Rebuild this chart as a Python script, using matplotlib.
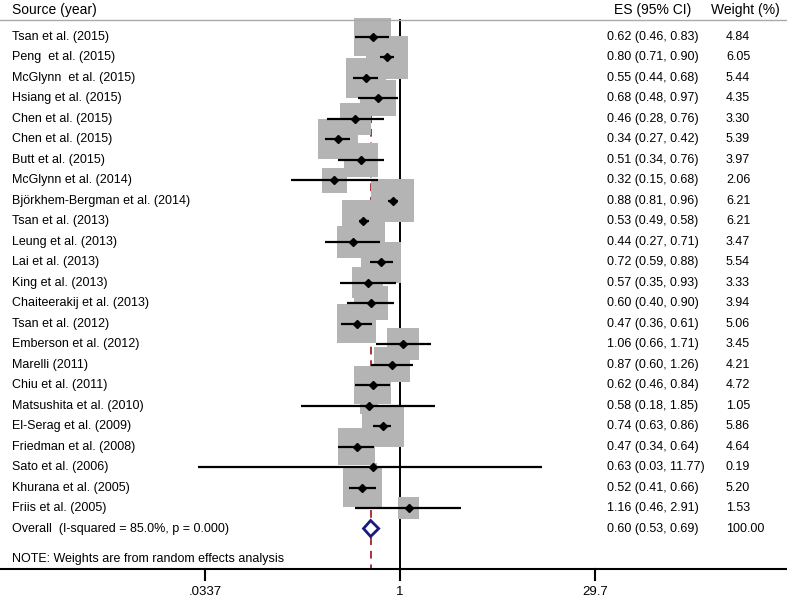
import numpy as np
import matplotlib
matplotlib.use("Agg")
import matplotlib.pyplot as plt
from matplotlib.patches import Rectangle, Polygon
import matplotlib.transforms as mtransforms

plt.rcParams['font.family'] = ['Liberation Sans', 'DejaVu Sans']

studies = ["Tsan et al. (2015)", "Peng  et al. (2015)", "McGlynn  et al. (2015)", "Hsiang et al. (2015)",
           "Chen et al. (2015)", "Chen et al. (2015)", "Butt et al. (2015)", "McGlynn et al. (2014)",
           "Björkhem-Bergman et al. (2014)", "Tsan et al. (2013)", "Leung et al. (2013)", "Lai et al. (2013)",
           "King et al. (2013)", "Chaiteerakij et al. (2013)", "Tsan et al. (2012)", "Emberson et al. (2012)",
           "Marelli (2011)", "Chiu et al. (2011)", "Matsushita et al. (2010)", "El-Serag et al. (2009)",
           "Friedman et al. (2008)", "Sato et al. (2006)", "Khurana et al. (2005)", "Friis et al. (2005)"]
es = [0.62, 0.80, 0.55, 0.68, 0.46, 0.34, 0.51, 0.32, 0.88, 0.53, 0.44, 0.72,
      0.57, 0.60, 0.47, 1.06, 0.87, 0.62, 0.58, 0.74, 0.47, 0.63, 0.52, 1.16]
lo = [0.46, 0.71, 0.44, 0.48, 0.28, 0.27, 0.34, 0.15, 0.81, 0.49, 0.27, 0.59,
      0.35, 0.40, 0.36, 0.66, 0.60, 0.46, 0.18, 0.63, 0.34, 0.03, 0.41, 0.46]
hi = [0.83, 0.90, 0.68, 0.97, 0.76, 0.42, 0.76, 0.68, 0.96, 0.58, 0.71, 0.88,
      0.93, 0.90, 0.61, 1.71, 1.26, 0.84, 1.85, 0.86, 0.64, 11.77, 0.66, 2.91]
weights = [4.84, 6.05, 5.44, 4.35, 3.30, 5.39, 3.97, 2.06, 6.21, 6.21, 3.47, 5.54,
           3.33, 3.94, 5.06, 3.45, 4.21, 4.72, 1.05, 5.86, 4.64, 0.19, 5.20, 1.53]
overall = (0.60, 0.53, 0.69)
overall_label = "Overall  (I-squared = 85.0%, p = 0.000)"
ticks = [0.0337, 1, 29.7]
tick_labels = [".0337", "1", "29.7"]

W, H = 787, 597
fig = plt.figure(figsize=(W / 100, H / 100), dpi=100)
ax = fig.add_axes([0, 0, 1, 1])
ax.set_axis_off()

# geometry in pixels -> data
px_per_ln = 57.5      # pixels per ln unit on the x axis
x_one = 400           # pixel position of ES = 1
row_h = 20.48         # pixels per row
y0 = 37               # pixel of first row
ax.set_xscale('log')
ax.set_xlim(np.exp(-x_one / px_per_ln), np.exp((W - x_one) / px_per_ln))
ax.set_ylim((H - y0) / row_h, -y0 / row_h)

n = len(studies)
rows = np.arange(n)
axis_row = 26.0
head_row = -0.83
lab = mtransforms.blended_transform_factory(ax.transAxes, ax.transData)

# reference lines
ax.plot([1, 1], [head_row, axis_row], color='black', lw=1.4, zorder=1)
ax.plot([overall[0]] * 2, [head_row, axis_row], color='#a8343c', lw=1.4,
        ls=(0, (4, 3)), zorder=1)

# weighted boxes
k = 17.25
for r, e, w in zip(rows, es, weights):
    s = k * np.sqrt(w)
    x0 = e * np.exp(-s / 2 / px_per_ln)
    x1 = e * np.exp(s / 2 / px_per_ln)
    hh = s / row_h
    ax.add_patch(Rectangle((x0, r - hh / 2), x1 - x0, hh, facecolor='#b4b4b4',
                           edgecolor='none', zorder=2))

# CIs and point estimates
ax.hlines(rows, lo, hi, color='black', lw=1.6, zorder=3)
ax.plot(es, rows, 'D', color='black', ms=4.5, zorder=4)

# overall diamond
orow = n
dh = 8 / row_h
ax.add_patch(Polygon([(overall[1], orow), (overall[0], orow - dh), (overall[2], orow),
                      (overall[0], orow + dh)], closed=True, facecolor='white',
                     edgecolor='#1a1a80', lw=2, zorder=5))

# header + axis
ax.plot([0, 1], [head_row, head_row], transform=lab, color='#aaaaaa', lw=1, clip_on=False)
ax.plot([0, 1], [axis_row, axis_row], transform=lab, color='black', lw=1.5, clip_on=False)
for t, tl in zip(ticks, tick_labels):
    ax.plot([t, t], [axis_row, axis_row + 0.5], color='black', lw=1.5)
    ax.text(t, axis_row + 1.1, tl, ha='center', va='center', fontsize=9.5)

fs = 9
xl, xes, xw = 12 / W, 607 / W, 726 / W
ax.text(xl, -1.3, "Source (year)", transform=lab, fontsize=10, va='center')
ax.text(653 / W, -1.3, "ES (95% CI)", transform=lab, fontsize=10, va='center', ha='center')
ax.text(745 / W, -1.3, "Weight (%)", transform=lab, fontsize=10, va='center', ha='center')
for r, name, e, l, h, w in zip(rows, studies, es, lo, hi, weights):
    ax.text(xl, r, name, transform=lab, fontsize=fs, va='center')
    ax.text(xes, r, f"{e:.2f} ({l:.2f}, {h:.2f})", transform=lab, fontsize=fs, va='center')
    ax.text(xw, r, f"{w:.2f}", transform=lab, fontsize=fs, va='center')
ax.text(xl, orow, overall_label, transform=lab, fontsize=fs, va='center')
ax.text(xes, orow, f"{overall[0]:.2f} ({overall[1]:.2f}, {overall[2]:.2f})",
        transform=lab, fontsize=fs, va='center')
ax.text(xw, orow, "100.00", transform=lab, fontsize=fs, va='center')
ax.text(xl, 25.5, "NOTE: Weights are from random effects analysis", transform=lab,
        fontsize=9, va='center')

fig.savefig("out.png", dpi=100)
